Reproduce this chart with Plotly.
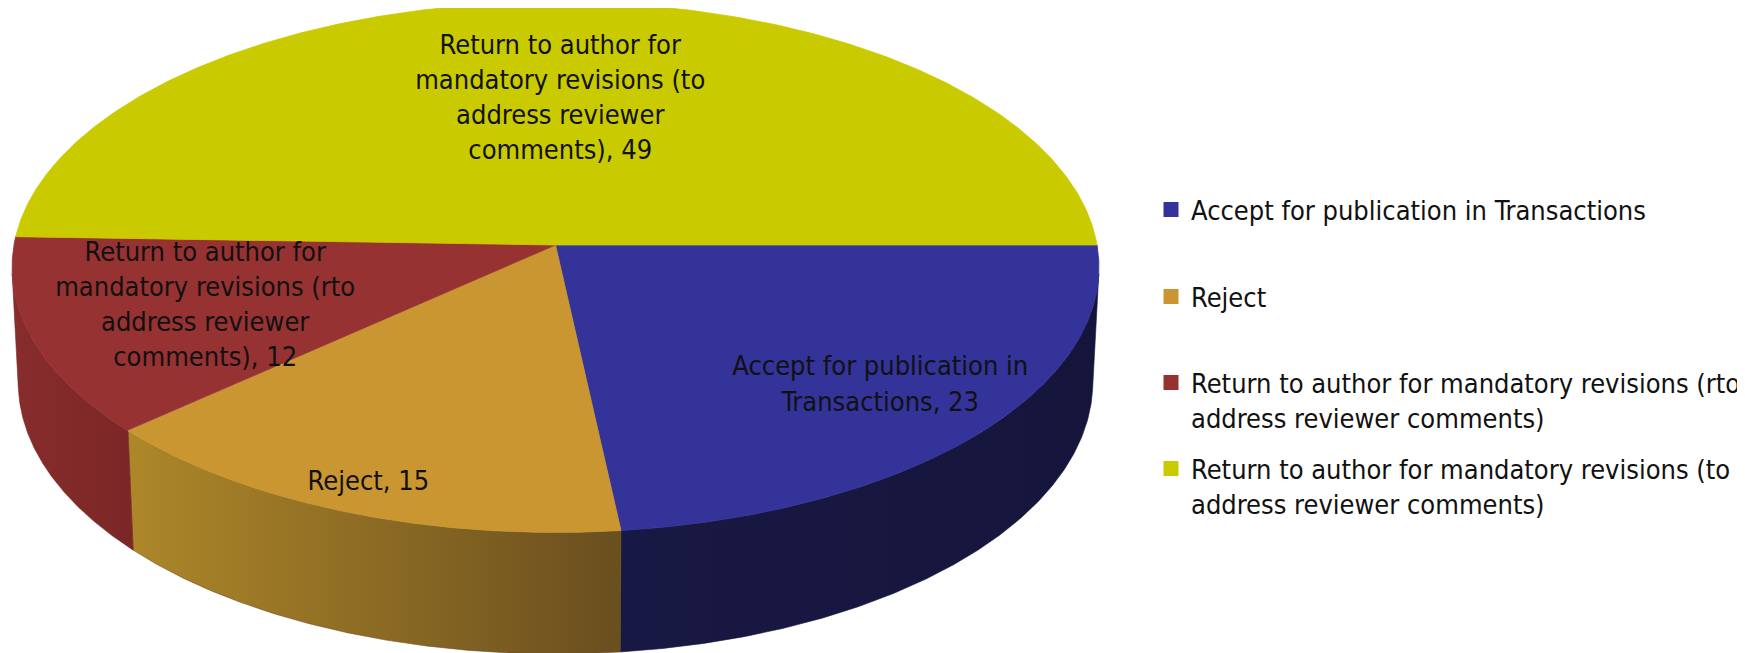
import numpy as np
import plotly.graph_objects as go

# ---------------- data ----------------
categories = [
    "Accept for publication in Transactions",
    "Reject",
    "Return to author for mandatory revisions (rto address reviewer comments)",
    "Return to author for mandatory revisions (to address reviewer comments)",
]
values = [23, 15, 12, 49]
label_names = [
    "Accept for publication in<br>Transactions",
    "Reject",
    "Return to author for<br>mandatory revisions (rto<br>address reviewer<br>comments)",
    "Return to author for<br>mandatory revisions (to<br>address reviewer<br>comments)",
]
legend_names = [
    "Accept for publication in Transactions",
    "Reject",
    "Return to author for mandatory revisions (rto<br>address reviewer comments)",
    "Return to author for mandatory revisions (to<br>address reviewer comments)",
]

# ---------------- style ----------------
top_colors = ["#333399", "#CA9631", "#963232", "#CACA00"]
side_colors = [("#181844", "#15153c"), ("#ae8729", "#6a4f1f"),
               ("#882c2c", "#7b2727"), ("#a3a300", "#7a7a00")]
label_radius = [0.77, 0.90, 0.675, 0.579]
legend_rows_px = [211, 298, 384, 470]

W, H = 1745, 653
OFF = 8  # page body margin of the html page
CX, CY = 555.5, 245.0
ELEV = np.radians(29.1)
DIST = 10.42
FOC = 5643.0
DEPTH = 0.245
START = 90.0
FONT = "DejaVu Sans Condensed, DejaVu Sans, sans-serif"


def project(phi_deg, r, yv):
    phi = np.radians(np.asarray(phi_deg, dtype=float))
    X = r * np.sin(phi)
    Z = -r * np.cos(phi)
    d = DIST - yv * np.sin(ELEV) - Z * np.cos(ELEV)
    xs = FOC * X / d
    ys = FOC * (yv * np.cos(ELEV) - Z * np.sin(ELEV)) / d
    return CX + xs, CY - ys


total = float(sum(values))
spans = [v / total * 360.0 for v in values]
starts = [START + sum(spans[:i]) for i in range(len(values))]
ends = [s + sp for s, sp in zip(starts, spans)]

phi_sil = np.degrees(np.arccos(-1.0 / (DIST * np.cos(ELEV))))
vis_lo, vis_hi = phi_sil, 360.0 - phi_sil

fig = go.Figure()

# side walls
for i in range(len(values)):
    a, b = max(starts[i], vis_lo), min(ends[i], vis_hi)
    if b <= a:
        continue
    ph = np.linspace(a, b, 200)
    xt, yt = project(ph, 1.0, 0.0)
    xb, yb = project(ph[::-1], 1.0, -DEPTH)
    xs = np.concatenate([xt, xb, xt[:1]])
    ys = np.concatenate([yt, yb, yt[:1]])
    fig.add_trace(go.Scatter(
        x=xs, y=ys, mode="lines", fill="toself",
        line=dict(width=0.6, color=side_colors[i][1]),
        fillgradient=dict(type="horizontal",
                          colorscale=[[0, side_colors[i][0]], [1, side_colors[i][1]]]),
        hoverinfo="skip", showlegend=False))

# top faces
for i in range(len(values)):
    ph = np.linspace(starts[i], ends[i], 400)
    xa, ya = project(ph, 1.0, 0.0)
    x0, y0 = project(0.0, 0.0, 0.0)
    xs = np.concatenate([[x0], xa, [x0]])
    ys = np.concatenate([[y0], ya, [y0]])
    fig.add_trace(go.Scatter(
        x=xs, y=ys, mode="lines", fill="toself", fillcolor=top_colors[i],
        line=dict(width=0.8, color=top_colors[i]),
        hoverinfo="skip", showlegend=False))

# data labels
for i in range(len(values)):
    mid = (starts[i] + ends[i]) / 2.0
    lx, ly = project(mid, label_radius[i], 0.0)
    fig.add_trace(go.Scatter(
        x=[float(lx)], y=[float(ly)], mode="text",
        text=[f"{label_names[i]}, {values[i]}"],
        textposition="middle center",
        textfont=dict(family=FONT, size=27, color="#111111"),
        hoverinfo="skip", showlegend=False, cliponaxis=False))

# legend entries (one legend per entry for Excel-like spacing)
legend_keys = ["legend", "legend2", "legend3", "legend4"]
for i in range(len(values)):
    fig.add_trace(go.Scatter(
        x=[None], y=[None], mode="markers",
        marker=dict(symbol="square", size=15, color=top_colors[i]),
        name=legend_names[i], legend=legend_keys[i], showlegend=True))

legend_common = dict(
    x=(1151 - OFF) / W, xanchor="left", yanchor="top", valign="top",
    font=dict(family=FONT, size=27, color="#111111"),
    bgcolor="rgba(0,0,0,0)", borderwidth=0,
)
layout_legends = {}
for i, key in enumerate(legend_keys):
    top_px = legend_rows_px[i] - 25.5
    layout_legends[key] = dict(legend_common, y=1 - (top_px - OFF) / H)

fig.update_layout(
    width=W, height=H,
    margin=dict(l=0, r=0, t=0, b=0),
    paper_bgcolor="white", plot_bgcolor="white",
    xaxis=dict(range=[OFF, W + OFF], visible=False, fixedrange=True),
    yaxis=dict(range=[H + OFF, OFF], visible=False, fixedrange=True),
    **layout_legends,
)

fig.write_html("out.html")
